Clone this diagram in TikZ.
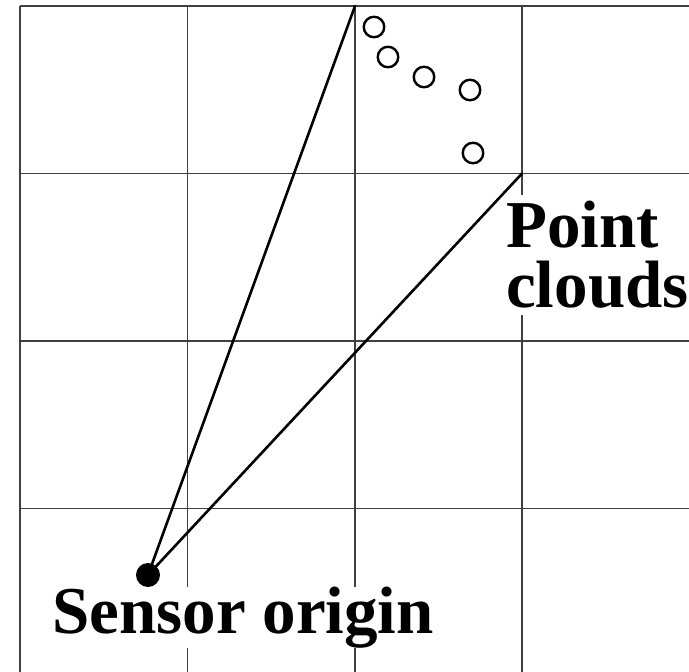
\documentclass[tikz,border=0pt]{standalone}
\usepackage{fontspec}
\setmainfont{Liberation Serif}
\begin{document}
\begin{tikzpicture}[x=1pt,y=-1pt,
  gridline/.style={line width=1.3pt, draw=black!75},
  ray/.style={line width=2.6pt, line cap=round},
  cloudpt/.style={circle, draw, line width=2.4pt, minimum size=20.5pt, inner sep=0pt},
  txtlabel/.style={font=\bfseries\fontsize{67}{60}\selectfont, fill=white, inner sep=0pt, text=black}
]
\useasboundingbox (0,0) rectangle (689,672);
\foreach \x in {20,187.5,355,522} \draw[gridline] (\x,6) -- (\x,672);
\foreach \y in {6,173.5,341,508.5} \draw[gridline] (20,\y) -- (689,\y);
% labels (white background interrupts grid)
\node[txtlabel, anchor=base west] (sensor) at (52,633) {Sensor origin};
\node[txtlabel, anchor=north west, align=left, inner ysep=6pt] (clouds) at (506,195) {Point\\clouds};
% sensor origin and rays
\node[circle, fill=black, minimum size=24pt, inner sep=0pt] (origin) at (148,575) {};
\coordinate (ta) at (355,6);
\coordinate (tb) at (522,173.5);
\draw[ray] (origin.center) -- (ta);
\draw[ray] (origin.center) -- (tb);
% point cloud
\node[cloudpt] (p1) at (374,27) {};
\node[cloudpt] (p2) at (388,57) {};
\node[cloudpt] (p3) at (424,77) {};
\node[cloudpt] (p4) at (470,90) {};
\node[cloudpt] (p5) at (473,153) {};
\end{tikzpicture}
\end{document}
